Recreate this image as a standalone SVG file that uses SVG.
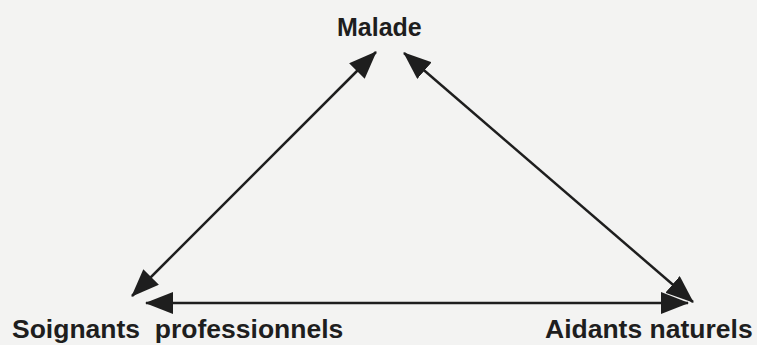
<svg xmlns="http://www.w3.org/2000/svg" width="757" height="345" viewBox="0 0 757 345">
<style>
.lbl{font-family:"Liberation Sans",Arial,Helvetica,sans-serif;font-weight:bold;fill:#1e1e1e}
.edge{stroke:#1e1e1e;stroke-width:2.5;fill:none;marker-start:url(#ah);marker-end:url(#ah)}
</style>
<defs>
<marker id="ah" viewBox="0 0 28 22" refX="27" refY="11" markerWidth="28" markerHeight="22" markerUnits="userSpaceOnUse" orient="auto-start-reverse">
<path d="M0,0 L28,11 L0,22 z" fill="#1e1e1e"/>
</marker>
</defs>
<rect width="757" height="345" fill="#f3f3f2"/>
<g id="connectors">
<line class="edge" x1="132" y1="296" x2="376" y2="52"/>
<line class="edge" x1="404" y1="53" x2="693" y2="302"/>
<line class="edge" x1="146" y1="303" x2="688" y2="303"/>
</g>
<g id="malade"><text class="lbl" x="337" y="36" font-size="25">Malade</text></g>
<g id="soignants"><text class="lbl" x="12" y="338" font-size="26.5" xml:space="preserve">Soignants  professionnels</text></g>
<g id="aidants"><text class="lbl" x="545" y="338" font-size="26.5">Aidants naturels</text></g>
</svg>
